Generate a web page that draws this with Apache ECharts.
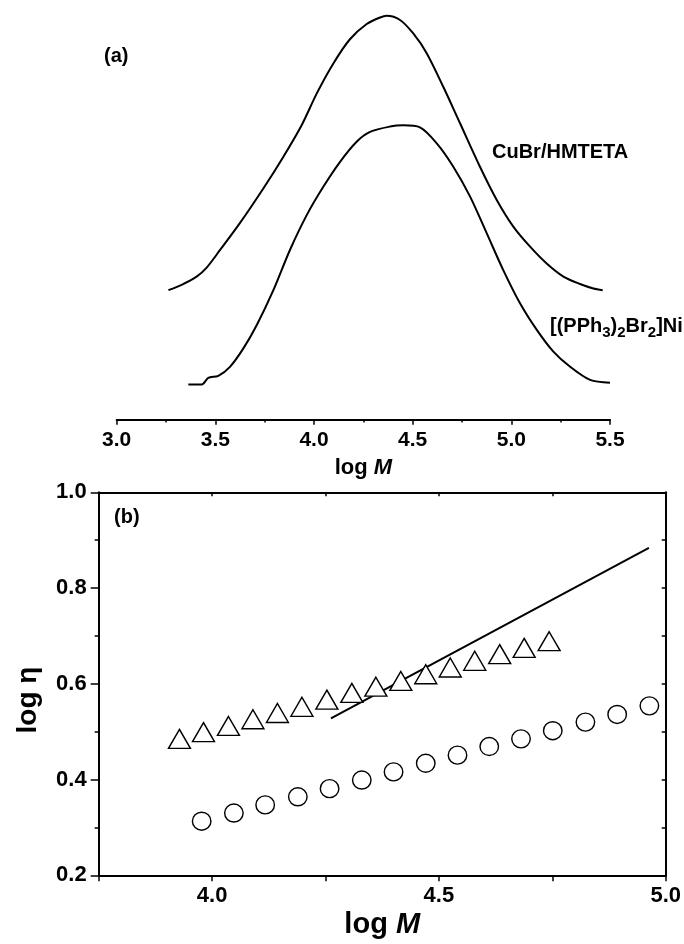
<!DOCTYPE html>
<html>
<head>
<meta charset="utf-8">
<title>GPC traces and log eta vs log M</title>
<script src="https://cdn.jsdelivr.net/npm/echarts@6/dist/echarts.min.js"></script>
<style>
  html, body { margin: 0; padding: 0; background: #fff; }
  #chart { width: 684px; height: 944px; }
</style>
</head>
<body>
<div id="chart"></div>
<script>
// panel (a): GPC traces, x = log M, y = detector signal (arbitrary units, 0..1)
var cuLogM = [3.262, 3.329, 3.405, 3.456, 3.524, 3.625, 3.743, 3.844, 3.938, 4.014, 4.098, 4.182, 4.267, 4.335, 4.368,
  4.436, 4.503, 4.571, 4.655, 4.740, 4.841, 4.926, 5.010, 5.095, 5.179, 5.264, 5.348, 5.416, 5.463];
var cuSignal = [0.315, 0.328, 0.348, 0.370, 0.413, 0.479, 0.563, 0.640, 0.718, 0.795, 0.868, 0.927, 0.964, 0.980, 0.984,
  0.974, 0.941, 0.893, 0.811, 0.722, 0.616, 0.535, 0.470, 0.421, 0.380, 0.348, 0.330, 0.319, 0.315];

var niLogM = [3.363, 3.431, 3.464, 3.515, 3.574, 3.642, 3.710, 3.794, 3.878, 3.963, 4.047, 4.132, 4.216, 4.284, 4.385,
  4.453, 4.537, 4.622, 4.706, 4.791, 4.875, 4.959, 5.044, 5.129, 5.213, 5.298, 5.399, 5.500];
var niSignal = [0.085, 0.085, 0.101, 0.106, 0.128, 0.173, 0.230, 0.315, 0.413, 0.498, 0.567, 0.628, 0.677, 0.701, 0.714,
  0.717, 0.712, 0.673, 0.616, 0.543, 0.454, 0.364, 0.283, 0.218, 0.165, 0.128, 0.096, 0.089];

// panel (b): log eta vs log M
var triLogM = [3.928, 3.981, 4.036, 4.090, 4.144, 4.198, 4.253, 4.308, 4.361, 4.416, 4.471, 4.525, 4.579, 4.634, 4.688, 4.743];
var triLogEta = [0.485, 0.499, 0.512, 0.526, 0.539, 0.552, 0.567, 0.581, 0.594, 0.606, 0.620, 0.634, 0.648, 0.662, 0.675, 0.689];

var circLogM = [3.977, 4.048, 4.117, 4.189, 4.259, 4.330, 4.400, 4.471, 4.541, 4.611, 4.681, 4.751, 4.823, 4.893, 4.964];
var circLogEta = [0.313, 0.330, 0.347, 0.364, 0.381, 0.399, 0.416, 0.434, 0.451, 0.469, 0.485, 0.502, 0.520, 0.536, 0.554];

var fitLogM = [4.262, 4.963];
var fitLogEta = [0.528, 0.884];

function pairs(xs, ys) {
    var out = [];
    for (var i = 0; i < xs.length; i++) out.push([xs[i], ys[i]]);
    return out;
}

var FONT = "'Liberation Sans', Arial, sans-serif";
var axisLine = { lineStyle: { color: '#000', width: 2 } };
function tickLabel(size) {
    return { color: '#000', fontFamily: FONT, fontWeight: 'bold', fontSize: size };
}

var chart = echarts.init(document.getElementById('chart'), null, { renderer: 'canvas' });

var option = {
    animation: false,
    backgroundColor: '#fff',
    grid: [
        { left: 116.7, right: 74, top: 9.3, bottom: 524.7 },
        { left: 98.7, right: 14, top: 492.3, bottom: 68.7 }
    ],
    xAxis: [
        {
            gridIndex: 0, type: 'value', min: 3.0, max: 5.5, interval: 0.5,
            name: '{n|log }{m|M}', nameLocation: 'middle', nameGap: 38,
            nameTextStyle: {
                rich: {
                    n: { fontFamily: FONT, fontWeight: 'bold', fontSize: 22, color: '#000' },
                    m: { fontFamily: FONT, fontWeight: 'bold', fontStyle: 'italic', fontSize: 22, color: '#000' }
                }
            },
            axisLine: axisLine,
            axisTick: { show: true, length: 5.5, lineStyle: { color: '#000', width: 1.5 } },
            minorTick: { show: true, splitNumber: 2, length: 3.3, lineStyle: { color: '#000', width: 1.5 } },
            axisLabel: Object.assign({ margin: 10, formatter: function (v) { return v.toFixed(1); } }, tickLabel(21)),
            splitLine: { show: false }
        },
        {
            gridIndex: 1, type: 'value', min: 3.75, max: 5.0, interval: 0.25,
            name: '{n|log }{m|M}', nameLocation: 'middle', nameGap: 35,
            nameTextStyle: {
                rich: {
                    n: { fontFamily: FONT, fontWeight: 'bold', fontSize: 29, color: '#000' },
                    m: { fontFamily: FONT, fontWeight: 'bold', fontStyle: 'italic', fontSize: 29, color: '#000' }
                }
            },
            axisLine: axisLine,
            axisTick: { show: true, length: 6, lineStyle: { color: '#000', width: 1.5 } },
            axisLabel: Object.assign({
                margin: 10,
                formatter: function (v) {
                    return Math.abs(v * 2 - Math.round(v * 2)) < 1e-6 ? v.toFixed(1) : '';
                }
            }, tickLabel(22)),
            splitLine: { show: false }
        },
        {
            gridIndex: 1, type: 'value', min: 3.75, max: 5.0, interval: 0.25, position: 'top',
            axisLine: axisLine,
            axisTick: { show: true, inside: true, length: 4, lineStyle: { color: '#000', width: 1.5 } },
            axisLabel: { show: false },
            splitLine: { show: false }
        }
    ],
    yAxis: [
        {
            gridIndex: 0, type: 'value', min: 0, max: 1, show: false
        },
        {
            gridIndex: 1, type: 'value', min: 0.2, max: 1.0, interval: 0.2,
            axisLine: axisLine,
            axisTick: { show: true, length: 8, lineStyle: { color: '#000', width: 1.5 } },
            minorTick: { show: true, splitNumber: 2, length: 4, lineStyle: { color: '#000', width: 1.5 } },
            axisLabel: Object.assign({ margin: 12, formatter: function (v) { return v.toFixed(1); } }, tickLabel(22)),
            splitLine: { show: false }
        },
        {
            gridIndex: 1, type: 'value', min: 0.2, max: 1.0, interval: 0.2, position: 'right',
            axisLine: axisLine,
            axisTick: { show: true, inside: true, length: 4, lineStyle: { color: '#000', width: 1.5 } },
            minorTick: { show: true, splitNumber: 2, length: 4, lineStyle: { color: '#000', width: 1.5 } },
            axisLabel: { show: false },
            splitLine: { show: false }
        }
    ],
    series: [
        {
            name: 'CuBr/HMTETA', type: 'line', xAxisIndex: 0, yAxisIndex: 0,
            data: pairs(cuLogM, cuSignal), smooth: 0.3, showSymbol: false,
            lineStyle: { color: '#000', width: 2 }
        },
        {
            name: '[(PPh3)2Br2]Ni', type: 'line', xAxisIndex: 0, yAxisIndex: 0,
            data: pairs(niLogM, niSignal), smooth: 0.3, showSymbol: false,
            lineStyle: { color: '#000', width: 2 }
        },
        {
            name: 'fit', type: 'line', xAxisIndex: 1, yAxisIndex: 1,
            data: pairs(fitLogM, fitLogEta), showSymbol: false,
            lineStyle: { color: '#000', width: 2 }, z: 1
        },
        {
            name: 'triangles', type: 'scatter', xAxisIndex: 1, yAxisIndex: 1,
            data: pairs(triLogM, triLogEta), symbol: 'triangle', symbolSize: [22, 19],
            itemStyle: { color: '#fff', borderColor: '#000', borderWidth: 1.4, opacity: 1 }, z: 3
        },
        {
            name: 'circles', type: 'scatter', xAxisIndex: 1, yAxisIndex: 1,
            data: pairs(circLogM, circLogEta), symbol: 'circle', symbolSize: [18.5, 18],
            itemStyle: { color: '#fff', borderColor: '#000', borderWidth: 1.4, opacity: 1 }, z: 3
        }
    ],
    graphic: [
        { type: 'text', x: 104, y: 56, style: { text: '(a)', font: 'bold 20px ' + FONT, fill: '#000', verticalAlign: 'middle' } },
        { type: 'text', x: 114, y: 517.5, style: { text: '(b)', font: 'bold 20px ' + FONT, fill: '#000', verticalAlign: 'middle' } },
        { type: 'text', x: 492, y: 152, style: { text: 'CuBr/HMTETA', font: 'bold 20px ' + FONT, fill: '#000', verticalAlign: 'middle' } },
        {
            type: 'text', x: 550, y: 326,
            style: {
                text: '{m|[(PPh}{s|3}{m|)}{s|2}{m|Br}{s|2}{m|]Ni}',
                verticalAlign: 'middle',
                rich: {
                    m: { fontFamily: FONT, fontWeight: 'bold', fontSize: 20, lineHeight: 28, fill: '#000', color: '#000' },
                    s: { fontFamily: FONT, fontWeight: 'bold', fontSize: 15, lineHeight: 15, verticalAlign: 'bottom', fill: '#000', color: '#000' }
                }
            }
        },
        {
            type: 'text', x: 28, y: 700, rotation: Math.PI / 2,
            style: { text: 'log η', font: 'bold 28px ' + FONT, fill: '#000', align: 'center', verticalAlign: 'middle' }
        }
    ]
};

chart.setOption(option);
</script>
</body>
</html>
